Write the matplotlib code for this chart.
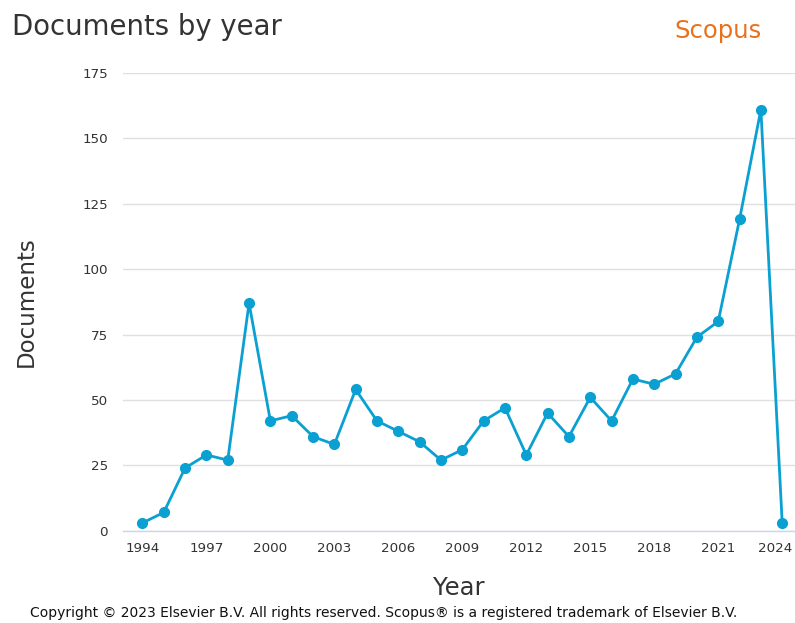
import matplotlib.pyplot as plt
from matplotlib.transforms import ScaledTranslation

# Documents per year
years = list(range(1994, 2025))
documents = [3, 7, 24, 29, 27, 87, 42, 44, 36, 33, 54, 42, 38, 34, 27, 31,
             42, 47, 29, 45, 36, 51, 42, 58, 56, 60, 74, 80, 119, 161, 3]
tick_years = list(range(1994, 2025, 3))
y_ticks = [0, 25, 50, 75, 100, 125, 150, 175]

line_color = '#0aa0d2'
text_color = '#333333'

fig = plt.figure(figsize=(7.95, 6.23), dpi=100)
ax = fig.add_axes([0.155, 0.148, 0.845, 0.735])

ax.plot(years, documents, color=line_color, linewidth=2,
        marker='o', markersize=7, zorder=3)

ax.set_xlim(1993.1, 2024.6)
ax.set_ylim(0, 175)
ax.set_xticks(tick_years)
ax.set_yticks(y_ticks)
ax.tick_params(axis='both', length=0, labelsize=9.7, colors=text_color)
ax.tick_params(axis='x', pad=8)
ax.tick_params(axis='y', pad=11)
ax.grid(axis='y', color='#e0e0e0', linewidth=1)
ax.set_axisbelow(True)
for side in ['top', 'right', 'left']:
    ax.spines[side].set_visible(False)
ax.spines['bottom'].set_color('#ccd6eb')
ax.spines['bottom'].set_linewidth(1)

# last year label is nudged left so it stays inside the figure
last = ax.get_xticklabels()[-1]
last.set_transform(last.get_transform() +
                   ScaledTranslation(-7 / 100, 0, fig.dpi_scale_trans))

ax.set_xlabel('Year', fontsize=17.5, color=text_color, labelpad=15)
ax.set_ylabel('Documents', fontsize=16.5, color=text_color, labelpad=32)

fig.text(0.015, 0.957, 'Documents by year', fontsize=19.8, color=text_color,
         ha='left', va='center')
fig.text(0.903, 0.95, 'Scopus', fontsize=17.5, color='#e9711c',
         ha='center', va='center')
fig.text(0.483, 0.016, 'Copyright © 2023 Elsevier B.V. All rights reserved. '
         'Scopus® is a registered trademark of Elsevier B.V.',
         fontsize=10, color='#111111', ha='center', va='center')

fig.savefig('out.png', dpi=100)
